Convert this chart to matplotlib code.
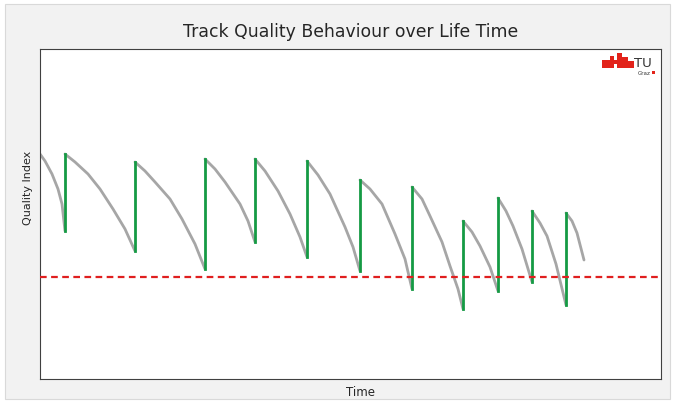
import matplotlib.pyplot as plt
from matplotlib.patches import Rectangle

# gray quality curve, one list per maintenance cycle (time, quality)
seg_t = [
    [0, 5, 12, 18, 22, 25],
    [25, 35, 48, 60, 73, 85, 95],
    [95, 105, 115, 130, 142, 155, 165],
    [165, 175, 185, 200, 208, 215],
    [215, 225, 238, 250, 260, 267],
    [267, 278, 290, 305, 313, 320],
    [320, 330, 342, 355, 365, 372],
    [372, 382, 390, 402, 410, 418, 423],
    [423, 432, 440, 450, 458],
    [458, 466, 473, 482, 492],
    [492, 500, 507, 516, 526],
    [526, 532, 537, 544],
]
seg_q = [
    [225, 218, 205, 190, 175, 148],
    [225, 217, 205, 190, 170, 150, 128],
    [217, 208, 197, 180, 160, 135, 110],
    [220, 210, 197, 175, 158, 137],
    [220, 208, 188, 165, 142, 122],
    [218, 204, 185, 152, 132, 108],
    [199, 190, 175, 145, 120, 90],
    [192, 180, 163, 137, 113, 90, 70],
    [158, 147, 133, 112, 88],
    [181, 168, 153, 130, 97],
    [168, 156, 143, 115, 74],
    [166, 158, 146, 119],
]
threshold = 102

fig = plt.figure(figsize=(6.75, 4.02), dpi=100)
fig.patches.append(Rectangle((5 / 675, 2 / 402), 665 / 675, 395 / 402,
                             transform=fig.transFigure, facecolor='#f2f2f2',
                             edgecolor='#d9d9d9', lw=0.8, zorder=-1))
ax = fig.add_axes([40 / 675, 22 / 402, 621 / 675, 330 / 402])
ax.set_facecolor('white')

for t, q in zip(seg_t, seg_q):
    ax.plot(t, q, color='#a6a6a6', lw=2, solid_capstyle='round', zorder=2)
# green renewal jumps between cycles
for i in range(len(seg_t) - 1):
    ax.plot([seg_t[i][-1], seg_t[i + 1][0]], [seg_q[i][-1], seg_q[i + 1][0]],
            color='#159a44', lw=2, zorder=3)
ax.axhline(threshold, color='#e01f1f', lw=1.6, ls=(0, (3, 2)), zorder=4)

ax.set_xlim(0, 621)
ax.set_ylim(0, 330)
ax.set_xticks([])
ax.set_yticks([])
for s in ax.spines.values():
    s.set_color('#404040')
    s.set_linewidth(0.8)
ax.set_xlabel('Time', fontsize=8.5, color='#262626')
ax.xaxis.set_label_coords(320.5 / 621, -13 / 330)
ax.set_ylabel('Quality Index', fontsize=8, color='#262626')
ax.yaxis.set_label_coords(-12 / 621, 192 / 330)
ax.yaxis.label.set_va('center')
ax.xaxis.label.set_va('center')
fig.text(350.5 / 675, 1 - 32 / 402, 'Track Quality Behaviour over Life Time',
         ha='center', va='center', fontsize=12.4, color='#262626')

# TU Graz logo
red = '#e2231a'
for (x, y, w, h) in [(602, 61, 8, 8), (610, 57, 4, 12), (614, 61, 3, 4),
                     (617, 54, 5, 15), (622, 58, 6, 11), (628, 62, 6, 7)]:
    fig.patches.append(Rectangle((x / 675, 1 - (y + h) / 402), w / 675, h / 402,
                                 transform=fig.transFigure, facecolor=red,
                                 edgecolor='none', zorder=5))
fig.text(634 / 675, 1 - 64 / 402, 'TU', fontsize=9.5, color='#333333',
         va='center', ha='left')
fig.text(638 / 675, 1 - 73.5 / 402, 'Graz', fontsize=4, color='#333333',
         va='center', ha='left')
fig.patches.append(Rectangle((652 / 675, 1 - 75 / 402), 3 / 675, 3 / 402,
                             transform=fig.transFigure, facecolor=red,
                             edgecolor='none', zorder=5))

fig.savefig('out.png', dpi=100)
